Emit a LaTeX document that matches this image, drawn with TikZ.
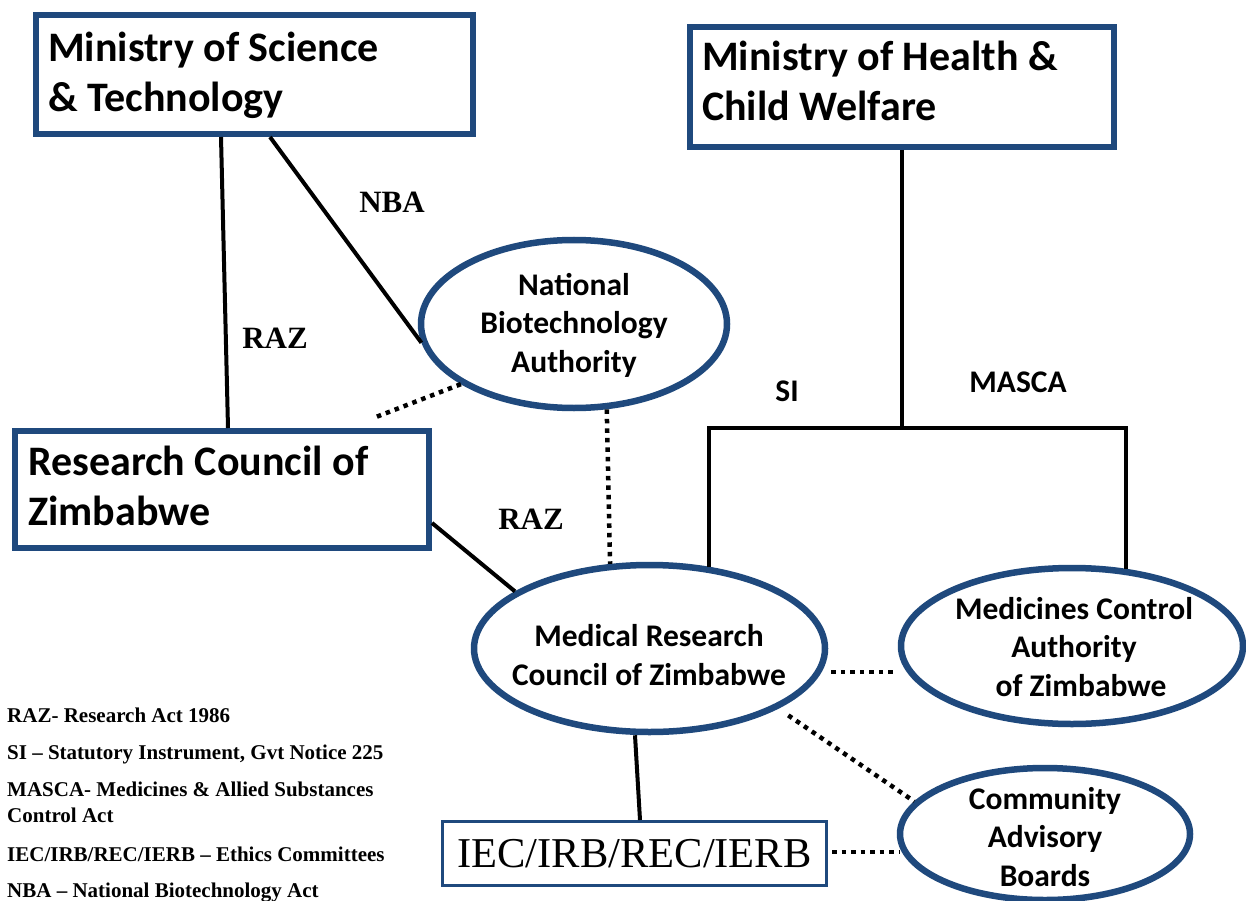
\documentclass[tikz,border=0pt]{standalone}
\usepackage{fontspec}
\setmainfont{Liberation Serif}
\newfontfamily\calib{Carlito}
\usetikzlibrary{shapes.geometric}
\definecolor{boxblue}{RGB}{31,73,125}
\begin{document}
\begin{tikzpicture}[x=1pt,y=-1pt,
  rbox/.style={draw=boxblue,line width=6pt,inner sep=0pt},
  oval/.style={ellipse,draw=boxblue,line width=6.5pt,inner sep=0pt},
  btxt/.style={font=\calib\bfseries\fontsize{42}{50}\selectfont,align=left,anchor=base west,inner sep=0pt},
  etxt/.style={font=\calib\bfseries\fontsize{31.5}{38.3}\selectfont,align=center,anchor=base,inner sep=0pt},
  lbl/.style={font=\bfseries\fontsize{31}{36}\selectfont,inner sep=0pt},
  slbl/.style={font=\calib\bfseries\fontsize{31.5}{38}\selectfont,inner sep=0pt},
  legend/.style={font=\bfseries\fontsize{21}{25.5}\selectfont,anchor=base west,align=left,inner sep=0pt},
  conn/.style={line width=4pt},
  dots/.style={line width=4.5pt,dash pattern=on 4.5pt off 5pt}]
\useasboundingbox[fill=white] (0,0) rectangle (1246,901);

% boxes (text anchors are at the baseline of the last line)
\node[rbox,minimum width=437pt,minimum height=119pt] (mst) at (254.5,74.5) {};
\node[btxt] (mstt) at (48,112) {Ministry of Science\\\& Technology};
\node[rbox,minimum width=424pt,minimum height=120pt] (mhcw) at (902,87) {};
\node[btxt] (mhcwt) at (702,121) {Ministry of Health \&\\Child Welfare};
\node[rbox,minimum width=414pt,minimum height=117pt] (rcz) at (222,489.5) {};
\node[btxt] (rczt) at (28,525) {Research Council of\\Zimbabwe};
\node[draw=boxblue,line width=3pt,minimum width=384pt,minimum height=64pt,inner sep=0pt,
      font=\fontsize{42.5}{50}\selectfont] (iec) at (634.5,853.5) {IEC/IRB/REC/IERB};

% ellipses
\node[oval,minimum width=306pt,minimum height=168pt] (nba) at (574,324) {};
\node[etxt] (nbat) at (574,372) {National\\Biotechnology\\Authority};
\node[oval,minimum width=351pt,minimum height=167pt] (mrcz) at (649.5,648.5) {};
\node[etxt] (mrczt) at (649,685) {Medical Research\\Council of Zimbabwe};
\node[oval,minimum width=342pt,minimum height=156pt] (mcaz) at (1072,646) {};
\node[etxt] (mcazt) at (1074,696) {Medicines Control\\Authority\\\hspace*{14pt}of Zimbabwe};
\node[oval,minimum width=290pt,minimum height=132pt] (cab) at (1045,834) {};
\node[etxt] (cabt) at (1045,886) {Community\\Advisory\\Boards};

% solid connectors
\draw[conn] ([xshift=-33.5pt]mst.south) -- ([xshift=6pt]rcz.north);
\draw[conn] ([xshift=15.5pt]mst.south) -- (nba.187);
\coordinate (jn) at (902,428);
\coordinate (bl) at (709,428);
\coordinate (br) at (1126,428);
\draw[conn] (mhcw.south) -- (jn);
\draw[conn] (bl |- mrcz.53) -- (bl) -- (br) -- (br |- mcaz.54);
\draw[conn] ([yshift=-33.5pt]rcz.east) -- (mrcz.157);
\draw[conn] ([xshift=-14.5pt]mrcz.south) -- ([xshift=5.5pt]iec.north);

% dotted connectors
\coordinate (nbaend) at (376,417);
\draw[dots] (nba.208) -- (nbaend);
\draw[dots] (nba.291) -- (mrcz.115);
\draw[dots] ([xshift=3pt,yshift=-23.5pt]mrcz.east) -- ([xshift=-3pt,yshift=-26pt]mcaz.west);
\draw[dots,shorten <=12pt] (mrcz.335) -- (cab.166);
\draw[dots] ([xshift=4pt,yshift=1.5pt]iec.east) -- ([xshift=3pt,yshift=-18pt]cab.west);

% connector labels
\node[lbl] (lnba) at (392,202) {NBA};
\node[lbl] (lraz1) at (275,338) {RAZ};
\node[lbl] (lraz2) at (531,519) {RAZ};
\node[slbl] (lsi) at (787,391) {SI};
\node[slbl] (lmasca) at (1018,382) {MASCA};

% legend
\node[legend] (g1) at (7,722) {RAZ- Research Act 1986};
\node[legend] (g2) at (7,759) {SI – Statutory Instrument, Gvt Notice 225};
\node[legend] (g3) at (7,822) {MASCA- Medicines \& Allied Substances\\Control Act};
\node[legend] (g4) at (7,861) {IEC/IRB/REC/IERB – Ethics Committees};
\node[legend] (g5) at (7,897) {NBA – National Biotechnology Act};
\end{tikzpicture}
\end{document}
